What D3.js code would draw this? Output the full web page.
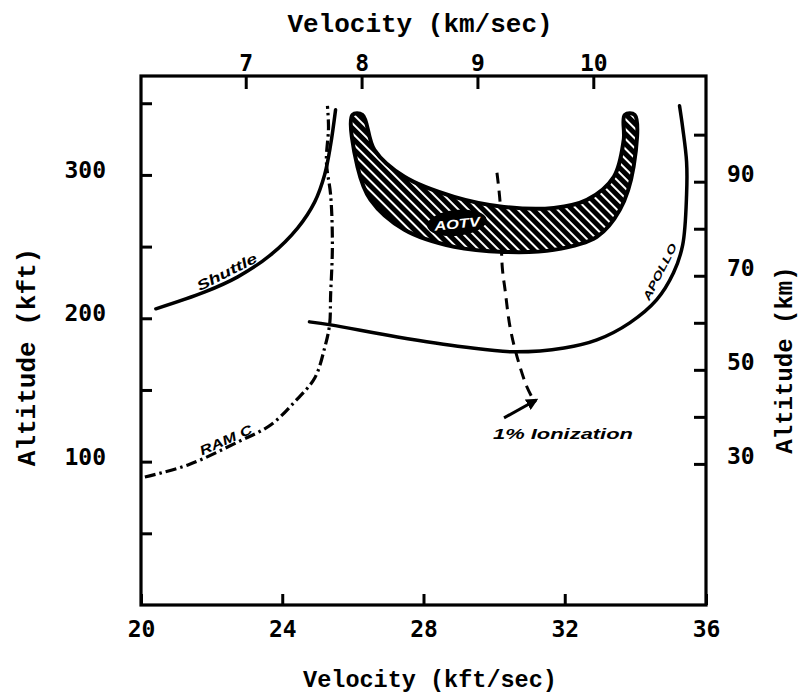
<!DOCTYPE html>
<html><head><meta charset="utf-8">
<script src="https://cdn.jsdelivr.net/npm/d3@7"></script>
<style>body{margin:0;background:#fff;} svg{display:block;}</style>
</head><body>
<svg id="chart" width="801" height="696"></svg>
<script>
// ---- tick values ----
const velTicksKft = [20, 24, 28, 32, 36];
const velTicksKm = [7, 8, 9, 10];
const altTicksKft = [50, 100, 150, 200, 250, 300, 350];
const altLabelsKft = [100, 200, 300];
const altTicksKm = [30, 40, 50, 60, 70, 80, 90, 100];
const altLabelsKm = [30, 50, 70, 90];
const KFT_PER_KM = 3.28084;

// ---- curves (velocity kft/sec, altitude kft) ----
const shuttleV = [20.42, 21.81, 22.74, 23.67, 24.44, 24.92, 25.20, 25.37, 25.51];
const shuttleH = [206.6, 218.4, 228.9, 244.2, 263.1, 281.2, 300.1, 321.0, 345.4];

const ramcV = [20.11, 21.33, 22.74, 23.67, 24.35, 24.92, 25.20, 25.34, 25.37, 25.42, 25.37, 25.25, 25.31, 25.28];
const ramcH = [89.3, 97.7, 113.7, 125.6, 141.7, 158.4, 179.3, 195.4, 216.3, 251.2, 286.1, 309.1, 332.9, 348.2];

const apolloV = [24.77, 25.37, 27.26, 29.15, 30.56, 31.98, 32.91, 33.84, 34.60, 35.08, 35.34, 35.45, 35.45, 35.34, 35.25];
const apolloH = [197.5, 195.4, 187.0, 180.0, 176.6, 179.3, 184.9, 196.8, 212.8, 231.7, 251.2, 286.1, 309.1, 332.9, 348.2];

const ionV = [30.08, 30.17, 30.23, 30.31, 30.45, 30.65, 30.93, 31.16];
const ionH = [301.5, 280.5, 235.9, 219.8, 194.0, 173.1, 152.1, 141.0];

const aotvLowerV = [25.99, 26.13, 26.50, 27.46, 28.87, 30.28, 31.69, 32.91, 33.56, 33.95, 33.98];
const aotvLowerH = [341.9, 305.7, 282.6, 261.7, 249.8, 246.3, 247.7, 256.8, 275.6, 305.7, 341.9];
const aotvUpperV = [33.70, 33.67, 33.39, 32.63, 31.69, 30.28, 28.87, 27.46, 26.61, 26.27];
const aotvUpperH = [341.9, 324.5, 298.7, 282.6, 277.0, 277.7, 284.7, 298.7, 317.5, 341.9];

// ---- annotations ----
const labelTexts = ["Shuttle", "RAM C", "APOLLO", "AOTV", "1% Ionization"];
const labelV = [22.43, 22.40, 34.69, 28.95, 31.95];
const labelH = [232.4, 115.1, 232.4, 265.9, 119.0];
const labelAngle = [-27, -24, -63, -6, 0];
const arrowV = [30.28, 31.19];
const arrowH = [130.5, 143.0];

// ---- scales ----
const svg = d3.select("#chart");
const x = d3.scaleLinear().domain([20, 36]).range([141, 706]);
const xKm = d3.scaleLinear().domain([20 / KFT_PER_KM, 36 / KFT_PER_KM]).range([141, 706]);
const y = d3.scaleLinear().domain([0, 369]).range([605, 76]);
const yKm = d3.scaleLinear().domain([0, 369 / KFT_PER_KM]).range([605, 76]);

const defs = svg.append("defs");
const pat = defs.append("pattern").attr("id", "hatch")
  .attr("patternUnits", "userSpaceOnUse").attr("width", 7).attr("height", 7)
  .attr("patternTransform", "rotate(-45)");
pat.append("rect").attr("width", 7).attr("height", 7).attr("fill", "#000");
pat.append("rect").attr("x", 0).attr("width", 2).attr("height", 7).attr("fill", "#fff");
defs.append("marker").attr("id", "arr").attr("viewBox", "0 0 10 10")
  .attr("refX", 8).attr("refY", 5).attr("markerWidth", 4).attr("markerHeight", 4)
  .attr("orient", "auto").append("path").attr("d", "M0,0 L10,5 L0,10 Z").attr("fill", "#000");

const zip = (vs, hs) => vs.map((v, i) => [v, hs[i]]);
const line = d3.line().x(d => x(d[0])).y(d => y(d[1])).curve(d3.curveCatmullRom.alpha(0.5));

// 1% ionization (dashed), drawn under AOTV
svg.append("path").attr("d", line(zip(ionV, ionH)))
  .attr("fill", "none").attr("stroke", "#000").attr("stroke-width", 3)
  .attr("stroke-dasharray", "11,7");

// AOTV band
const aotvPts = zip(aotvLowerV, aotvLowerH).concat(zip(aotvUpperV, aotvUpperH));
const closed = d3.line().x(d => x(d[0])).y(d => y(d[1])).curve(d3.curveCatmullRomClosed.alpha(0.5));
svg.append("path").attr("d", closed(aotvPts))
  .attr("fill", "url(#hatch)").attr("stroke", "#000").attr("stroke-width", 4)
  .attr("stroke-linejoin", "round");

// Shuttle
svg.append("path").attr("d", line(zip(shuttleV, shuttleH)))
  .attr("fill", "none").attr("stroke", "#000").attr("stroke-width", 3.5).attr("stroke-linecap", "round");
// RAM C
svg.append("path").attr("d", line(zip(ramcV, ramcH)))
  .attr("fill", "none").attr("stroke", "#000").attr("stroke-width", 3.2)
  .attr("stroke-dasharray", "11,4,2.5,4");
// Apollo
svg.append("path").attr("d", line(zip(apolloV, apolloH)))
  .attr("fill", "none").attr("stroke", "#000").attr("stroke-width", 3.5).attr("stroke-linecap", "round");

// arrow
svg.append("line").attr("x1", x(arrowV[0])).attr("y1", y(arrowH[0]))
  .attr("x2", x(arrowV[1])).attr("y2", y(arrowH[1]))
  .attr("stroke", "#000").attr("stroke-width", 3).attr("marker-end", "url(#arr)");

// AOTV black backdrop for label
svg.append("ellipse").attr("cx", x(labelV[3])).attr("cy", y(labelH[3]) - 1)
  .attr("rx", 30).attr("ry", 13).attr("fill", "#000")
  .attr("transform", `rotate(-6,${x(labelV[3])},${y(labelH[3])})`);

const lblSize = [14, 13, 11, 13, 14];
const lblLen = [66, 56, 62, 46, 140];
labelTexts.forEach((t, i) => {
  svg.append("text").text(t)
    .attr("x", x(labelV[i])).attr("y", y(labelH[i]))
    .attr("text-anchor", "middle").attr("dominant-baseline", "central")
    .attr("transform", `rotate(${labelAngle[i]},${x(labelV[i])},${y(labelH[i])})`)
    .attr("font-family", "Liberation Sans, Arial, sans-serif")
    .attr("font-weight", "bold").attr("font-style", "italic")
    .attr("font-size", lblSize[i])
    .attr("textLength", lblLen[i]).attr("lengthAdjust", "spacingAndGlyphs")
    .attr("fill", i === 3 ? "#fff" : "#000");
});

// ---- axes ----
const tickFont = "DejaVu Sans Mono, monospace";
function styleAxis(g, dy) {
  g.select(".domain").remove();
  g.selectAll(".tick line").attr("stroke", "#000").attr("stroke-width", 3);
  g.selectAll(".tick text").attr("font-family", tickFont).attr("font-size", 23)
    .attr("font-weight", "bold").attr("fill", "#000");
  if (dy) g.selectAll(".tick text").attr("y", dy);
}
svg.append("g").attr("transform", `translate(0,${y(0)})`)
  .call(d3.axisBottom(x).tickValues(velTicksKft).tickSize(-11).tickPadding(16).tickFormat(d3.format("d")))
  .call(g => styleAxis(g));
svg.append("g").attr("transform", `translate(0,${y(369)})`)
  .call(d3.axisTop(xKm).tickValues(velTicksKm).tickSize(-13).tickPadding(5).tickFormat(d3.format("d")))
  .call(g => styleAxis(g));
svg.append("g").attr("transform", `translate(${x(20)},0)`)
  .call(d3.axisLeft(y).tickValues(altTicksKft).tickSize(-11).tickPadding(35)
    .tickFormat(d => altLabelsKft.includes(d) ? d : ""))
  .call(g => styleAxis(g, -5));
svg.append("g").attr("transform", `translate(${x(36)},0)`)
  .call(d3.axisRight(yKm).tickValues(altTicksKm).tickSize(-12).tickPadding(21)
    .tickFormat(d => altLabelsKm.includes(d) ? d : ""))
  .call(g => styleAxis(g, -8));

// frame
svg.append("rect").attr("x", x(20)).attr("y", y(369))
  .attr("width", x(36) - x(20)).attr("height", y(0) - y(369))
  .attr("fill", "none").attr("stroke", "#000").attr("stroke-width", 3.2);

// ---- titles ----
const titleFont = "Liberation Mono, Courier New, monospace";
function title(t, tx, ty, rot, fs) {
  svg.append("text").text(t).attr("x", tx).attr("y", ty)
    .attr("text-anchor", "middle").attr("dominant-baseline", "central")
    .attr("transform", rot ? `rotate(${rot},${tx},${ty})` : null)
    .attr("font-family", titleFont).attr("font-weight", "bold").attr("font-size", fs).attr("fill", "#000");
}
title("Velocity (km/sec)", 420, 25, 0, 26);
title("Velocity (kft/sec)", 430, 680, 0, 23.5);
title("Altitude (kft)", 28, 357, -90, 26);
title("Altitude (km)", 785, 360, -90, 24);
</script>
</body></html>
